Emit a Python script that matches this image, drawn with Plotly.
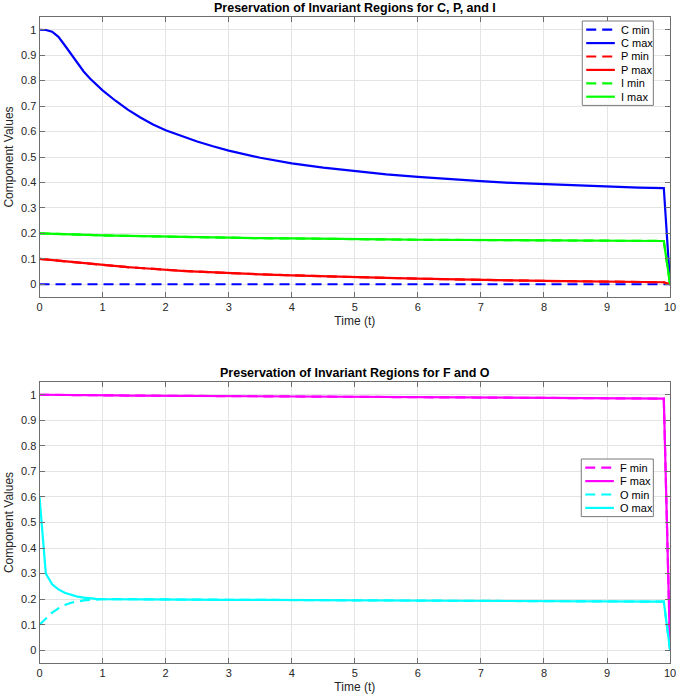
import plotly.graph_objects as go

# ---- data ----
t = [0, 0.1, 0.2, 0.3, 0.4, 0.5, 0.6, 0.7, 0.8, 0.9, 1.0,
     1.2, 1.4, 1.6, 1.8, 2.0, 2.25, 2.5, 2.75, 3.0,
     3.5, 4.0, 4.5, 5.0, 5.5, 6.0, 6.5, 7.0, 7.5, 8.0, 8.5, 9.0, 9.5, 9.9, 10.0]

c_min = [0, 0, 0, 0, 0, 0, 0, 0, 0, 0, 0,
         0, 0, 0, 0, 0, 0, 0, 0, 0,
         0, 0, 0, 0, 0, 0, 0, 0, 0, 0, 0, 0, 0, 0, 0]
c_max = [1.0, 0.999, 0.992, 0.972, 0.939, 0.903, 0.868, 0.836, 0.808, 0.784, 0.762,
         0.722, 0.686, 0.655, 0.628, 0.605, 0.582, 0.561, 0.542, 0.525,
         0.497, 0.475, 0.458, 0.444, 0.432, 0.422, 0.413, 0.405, 0.398, 0.393, 0.388, 0.384, 0.38, 0.378, 0.0]
p_min = [0.1, 0.0975, 0.095, 0.0925, 0.09, 0.0875, 0.085, 0.0825, 0.08, 0.0775, 0.075,
         0.071, 0.067, 0.064, 0.06, 0.057, 0.053, 0.05, 0.047, 0.044,
         0.039, 0.035, 0.031, 0.028, 0.025, 0.022, 0.019, 0.017, 0.015, 0.013, 0.011, 0.01, 0.009, 0.008, 0.0]
p_max = [0.1, 0.0975, 0.095, 0.0925, 0.09, 0.0875, 0.085, 0.0825, 0.08, 0.0775, 0.075,
         0.071, 0.067, 0.064, 0.06, 0.057, 0.053, 0.05, 0.047, 0.044,
         0.039, 0.035, 0.031, 0.028, 0.025, 0.022, 0.019, 0.017, 0.015, 0.013, 0.011, 0.01, 0.009, 0.008, 0.0]
i_min = [0.2, 0.199, 0.198, 0.198, 0.197, 0.196, 0.195, 0.194, 0.193, 0.193, 0.192,
         0.191, 0.19, 0.189, 0.188, 0.187, 0.186, 0.185, 0.184, 0.183,
         0.181, 0.18, 0.178, 0.177, 0.176, 0.175, 0.174, 0.174, 0.173, 0.173, 0.172, 0.172, 0.171, 0.17, 0.0]
i_max = [0.2, 0.199, 0.198, 0.198, 0.197, 0.196, 0.195, 0.194, 0.193, 0.193, 0.192,
         0.191, 0.19, 0.189, 0.188, 0.187, 0.186, 0.185, 0.184, 0.183,
         0.181, 0.18, 0.178, 0.177, 0.176, 0.175, 0.174, 0.174, 0.173, 0.173, 0.172, 0.172, 0.171, 0.17, 0.0]

f_min = [1.0, 1.0, 1.0, 0.9995, 0.9993, 0.999, 0.9988, 0.9985, 0.9983, 0.998, 0.9978,
         0.9975, 0.997, 0.9967, 0.9963, 0.996, 0.9955, 0.995, 0.9945, 0.994,
         0.993, 0.992, 0.991, 0.99, 0.9895, 0.989, 0.9885, 0.988, 0.9875, 0.987, 0.9865, 0.986, 0.9855, 0.985, 0.0]
f_max = [1.0, 1.0, 1.0, 0.9995, 0.9993, 0.999, 0.9988, 0.9985, 0.9983, 0.998, 0.9978,
         0.9975, 0.997, 0.9967, 0.9963, 0.996, 0.9955, 0.995, 0.9945, 0.994,
         0.993, 0.992, 0.991, 0.99, 0.9895, 0.989, 0.9885, 0.988, 0.9875, 0.987, 0.9865, 0.986, 0.9855, 0.985, 0.0]
o_min = [0.1, 0.125, 0.147, 0.164, 0.177, 0.186, 0.192, 0.195, 0.197, 0.199, 0.2,
         0.2, 0.2, 0.1995, 0.199, 0.199, 0.1985, 0.198, 0.198, 0.1975,
         0.197, 0.1965, 0.196, 0.1955, 0.195, 0.1945, 0.194, 0.1935, 0.193, 0.1925, 0.192, 0.1915, 0.191, 0.19, 0.0]
o_max = [0.6, 0.3, 0.258, 0.238, 0.225, 0.216, 0.21, 0.206, 0.203, 0.201, 0.2,
         0.2, 0.2, 0.1995, 0.199, 0.199, 0.1985, 0.198, 0.198, 0.1975,
         0.197, 0.1965, 0.196, 0.1955, 0.195, 0.1945, 0.194, 0.1935, 0.193, 0.1925, 0.192, 0.1915, 0.191, 0.19, 0.0]

x_ticks = [0, 1, 2, 3, 4, 5, 6, 7, 8, 9, 10]
y_ticks = [0, 0.1, 0.2, 0.3, 0.4, 0.5, 0.6, 0.7, 0.8, 0.9, 1]
y_labels = ["0", "0.1", "0.2", "0.3", "0.4", "0.5", "0.6", "0.7", "0.8", "0.9", "1"]

titles = ["Preservation of Invariant Regions for C, P, and I",
          "Preservation of Invariant Regions for F and O"]

# ---- figure ----
FONT = "Liberation Sans, Arial, Helvetica, sans-serif"
DASH = "10px,6px"
W, H = 684, 696
LW = 2.2

top_series = [
    ("C min", c_min, "#0000ff", DASH),
    ("C max", c_max, "#0000ff", "solid"),
    ("P min", p_min, "#ff0000", DASH),
    ("P max", p_max, "#ff0000", "solid"),
    ("I min", i_min, "#00ff00", DASH),
    ("I max", i_max, "#00ff00", "solid"),
]
bot_series = [
    ("F min", f_min, "#ff00ff", DASH),
    ("F max", f_max, "#ff00ff", "solid"),
    ("O min", o_min, "#00ffff", DASH),
    ("O max", o_max, "#00ffff", "solid"),
]

fig = go.Figure()
for name, vals, col, dash in top_series:
    fig.add_trace(go.Scatter(x=t, y=vals, mode="lines", name=name, showlegend=False,
                             line=dict(color=col, width=LW, dash=dash),
                             xaxis="x", yaxis="y"))
for name, vals, col, dash in bot_series:
    fig.add_trace(go.Scatter(x=t, y=vals, mode="lines", name=name, showlegend=False,
                             line=dict(color=col, width=LW, dash=dash),
                             xaxis="x2", yaxis="y2"))

x0, x1 = 37 / W, 676 / W
top_dom = [1 - 297 / H, 1 - 17 / H]
bot_dom = [1 - 663 / H, 1 - 382 / H]

axcol = "#6e6e6e"
common = dict(showline=True, linecolor=axcol, linewidth=1, mirror="ticks",
              ticks="inside", ticklen=5, tickcolor=axcol,
              showgrid=True, gridcolor="#e4e4e4", gridwidth=1, zeroline=False,
              tickfont=dict(family=FONT, size=11, color="#262626"))

xcommon = dict(common, range=[0, 10], tickvals=x_ticks, ticktext=[str(v) for v in x_ticks],
               title=dict(text="Time (t)", font=dict(family=FONT, size=12, color="#262626"), standoff=4))
ycommon = dict(common, range=[-0.05, 1.05], tickvals=y_ticks, ticktext=y_labels,
               title=dict(text="Component Values", font=dict(family=FONT, size=12, color="#262626"), standoff=4))

# ---- hand-drawn compact legends (MATLAB style) ----
shapes = []
annotations = []


def add_legend(series, box_left, box_right, box_top, row_h):
    n = len(series)
    box_bottom = box_top + 2 + row_h * n + 2
    shapes.append(dict(type="rect", xref="paper", yref="paper",
                       x0=box_left / W, x1=box_right / W,
                       y0=1 - box_top / H, y1=1 - box_bottom / H,
                       line=dict(color="#7a7a7a", width=1), fillcolor="white", layer="above"))
    for k, (name, _vals, col, dash) in enumerate(series):
        yc = box_top + 2 + row_h * (k + 0.5)
        shapes.append(dict(type="line", xref="paper", yref="paper",
                           x0=(box_left + 4) / W, x1=(box_left + 33) / W,
                           y0=1 - yc / H, y1=1 - yc / H,
                           line=dict(color=col, width=LW, dash=dash), layer="above"))
        annotations.append(dict(text=name, xref="paper", yref="paper",
                                x=(box_left + 37) / W, y=1 - yc / H,
                                xanchor="left", yanchor="middle", showarrow=False,
                                font=dict(family=FONT, size=11, color="#000000")))


add_legend(top_series, 587, 659, 21, 13.4)
add_legend(bot_series, 586, 659, 459, 13.4)

for txt, ypx in zip(titles, [8, 373]):
    annotations.append(dict(text="<b>" + txt + "</b>", x=(37 + 676) / 2 / W, y=1 - ypx / H,
                            xref="paper", yref="paper", showarrow=False,
                            xanchor="center", yanchor="middle",
                            font=dict(family=FONT, size=12.5, color="#000000")))

fig.update_layout(
    width=W, height=H,
    margin=dict(l=0, r=0, t=0, b=0),
    paper_bgcolor="white", plot_bgcolor="white",
    showlegend=False,
    xaxis=dict(xcommon, domain=[x0, x1], anchor="y"),
    yaxis=dict(ycommon, domain=top_dom, anchor="x"),
    xaxis2=dict(xcommon, domain=[x0, x1], anchor="y2"),
    yaxis2=dict(ycommon, domain=bot_dom, anchor="x2"),
    shapes=shapes,
    annotations=annotations,
)

fig.write_html("out.html")
